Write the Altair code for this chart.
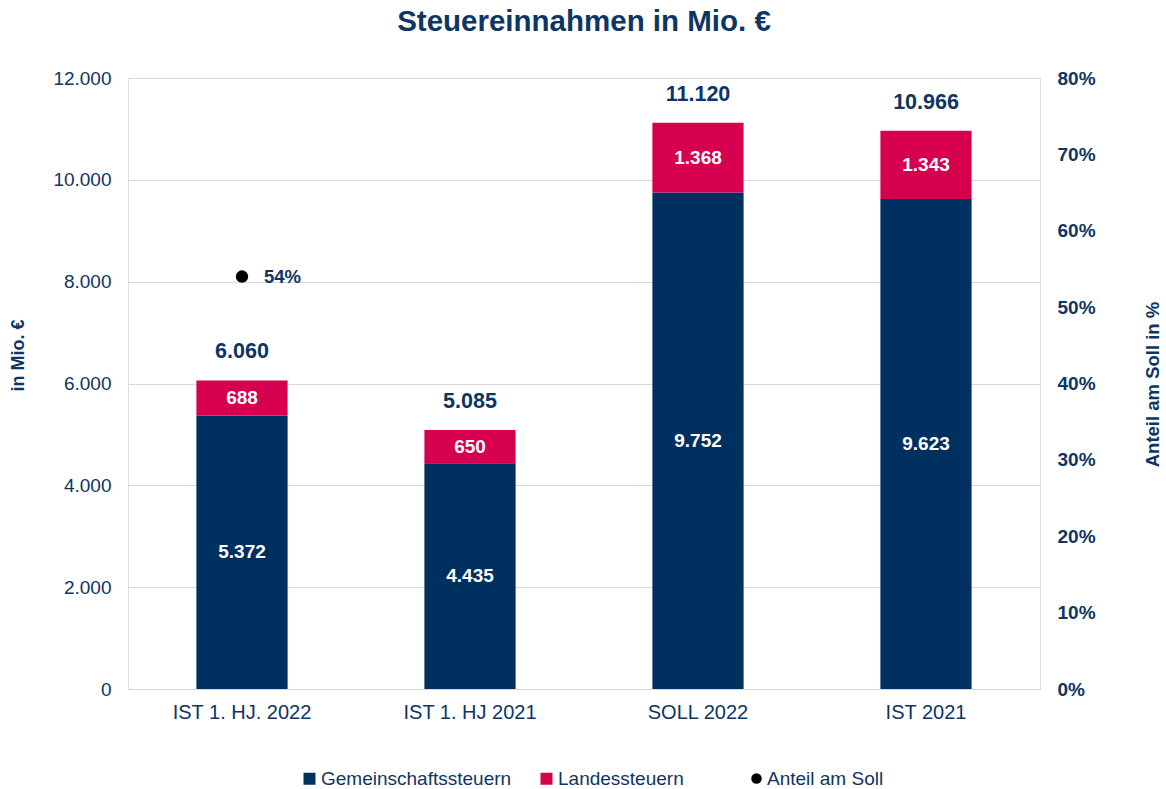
import altair as alt
import pandas as pd

categories = ["IST 1. HJ. 2022", "IST 1. HJ 2021", "SOLL 2022", "IST 2021"]
gemeinschaft = [5372, 4435, 9752, 9623]
landes = [688, 650, 1368, 1343]
totals = [6060, 5085, 11120, 10966]
anteil_cat = ["IST 1. HJ. 2022"]
anteil_val = [0.54]

series = ["Gemeinschaftssteuern", "Landessteuern"]
NAVY = "#003060"
RED = "#D6004F"
TXT = "#0E3563"
FONT = "Liberation Sans"


def de(n):
    return f"{n:,}".replace(",", ".")


rows = []
for c, g, l in zip(categories, gemeinschaft, landes):
    rows.append(dict(cat=c, serie=series[0], lo=0, hi=g, mid=g / 2, label=de(g)))
    rows.append(dict(cat=c, serie=series[1], lo=g, hi=g + l, mid=g + l / 2, label=de(l)))
bars_df = pd.DataFrame(rows)
tot_df = pd.DataFrame(dict(cat=categories, total=totals, label=[de(t) for t in totals]))
pt_df = pd.DataFrame(dict(cat=anteil_cat, val=anteil_val, serie=["Anteil am Soll"],
                          label=[f"{round(v*100)}%" for v in anteil_val]))

xenc = alt.X("cat:N", sort=categories, title=None,
             scale=alt.Scale(paddingInner=0.6, paddingOuter=0.3),
             axis=alt.Axis(labelColor=TXT, labelFontSize=20, labelFont=FONT, ticks=False,
                           domainColor="#d9d9d9", labelPadding=13, labelAngle=0))

yaxis = alt.Axis(values=[0, 2000, 4000, 6000, 8000, 10000, 12000],
                 labelExpr="replace(format(datum.value, ','), ',', '.')",
                 labelColor=TXT, labelFontSize=19, labelFont=FONT, ticks=False, domain=False,
                 gridColor="#d9d9d9", labelPadding=17,
                 title="in Mio. €", titleColor=TXT, titleFontSize=18, titleFont=FONT,
                 titleFontWeight="bold", titleX=-110, titleY=277, titleAngle=270,
                 titleAlign="center", titleBaseline="middle")
yscale = alt.Scale(domain=[0, 12000], nice=False)

bars = alt.Chart(bars_df).mark_bar().encode(
    x=xenc,
    y=alt.Y("lo:Q", scale=yscale, axis=yaxis),
    y2="hi:Q",
    color=alt.Color("serie:N", scale=alt.Scale(domain=series, range=[NAVY, RED]),
                    legend=alt.Legend(title=None, orient="none", direction="horizontal",
                                      legendX=172, legendY=691, symbolType="square",
                                      symbolSize=144, labelFontSize=19, labelFont=FONT,
                                      labelColor=TXT, columnPadding=25, labelOffset=2,
                                      labelLimit=400, symbolStrokeWidth=0)),
)
seg_text = alt.Chart(bars_df).mark_text(color="white", fontWeight="bold", fontSize=19,
                                        font=FONT, baseline="middle").encode(
    x=alt.X("cat:N", sort=categories),
    y=alt.Y("mid:Q", scale=yscale, axis=yaxis),
    text="label:N",
)
tot_text = alt.Chart(tot_df).mark_text(color=TXT, fontWeight="bold", fontSize=21.5,
                                       font=FONT, baseline="middle", dy=-28).encode(
    x=alt.X("cat:N", sort=categories),
    y=alt.Y("total:Q", scale=yscale, axis=yaxis),
    text="label:N",
)

raxis = alt.Axis(values=[0, 0.1, 0.2, 0.3, 0.4, 0.5, 0.6, 0.7, 0.8], format=".0%", orient="right",
                 labelColor=TXT, labelFontSize=19, labelFont=FONT, labelFontWeight="bold",
                 ticks=False, domain=False, grid=False, labelPadding=17,
                 title="Anteil am Soll in %", titleColor=TXT, titleFontSize=18.5, titleFont=FONT,
                 titleFontWeight="bold", titleX=112, titleY=306, titleAngle=270,
                 titleAlign="center", titleBaseline="middle")
rscale = alt.Scale(domain=[0, 0.8], nice=False)

pts = alt.Chart(pt_df).mark_point(filled=True, color="black", opacity=1, size=154).encode(
    x=alt.X("cat:N", sort=categories),
    y=alt.Y("val:Q", scale=rscale, axis=raxis),
    shape=alt.Shape("serie:N", scale=alt.Scale(domain=["Anteil am Soll"], range=["circle"]),
                    legend=alt.Legend(title=None, orient="none", legendX=619, legendY=691,
                                      symbolFillColor="black", symbolStrokeColor="black",
                                      symbolSize=110, labelFontSize=19, labelFont=FONT,
                                      labelColor=TXT, labelOffset=1, labelLimit=400)),
)
pt_text = alt.Chart(pt_df).mark_text(color=TXT, fontWeight="bold", fontSize=18.5, font=FONT,
                                     align="left", baseline="middle", dx=22).encode(
    x=alt.X("cat:N", sort=categories),
    y=alt.Y("val:Q", scale=rscale, axis=raxis),
    text="label:N",
)

chart = alt.layer(
    alt.layer(bars, seg_text, tot_text),
    alt.layer(pts, pt_text),
).resolve_scale(y="independent", color="independent", shape="independent").properties(
    width=912, height=611,
    autosize=alt.AutoSizeParams(type="none"),
    padding={"left": 128, "top": 78, "right": 126, "bottom": 100},
    title=alt.Title("Steuereinnahmen in Mio. €", fontSize=29.5, font=FONT, fontWeight="bold",
                    color=TXT, anchor="middle", offset=32),
).configure_view(stroke="#d9d9d9").configure(background="white")

chart.save("out.html", embed_options={"renderer": "svg", "actions": False})
